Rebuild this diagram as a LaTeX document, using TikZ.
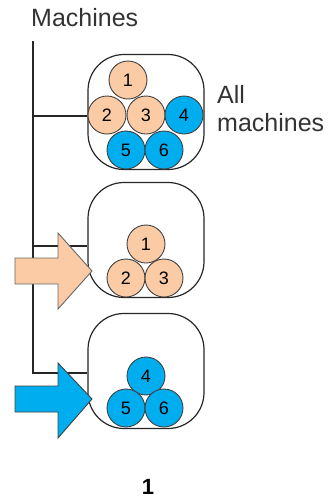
\documentclass[tikz,border=0pt]{standalone}
\usepackage{fontspec}
\setmainfont{Liberation Sans}
\begin{document}
\begin{tikzpicture}[x=1pt,y=-1pt,
  box/.style={draw=black!85,line width=1.2pt,rounded corners=36pt,minimum width=116pt,minimum height=115pt,inner sep=0pt},
  ball/.style={circle,draw=black!75,line width=0.9pt,minimum size=38pt,inner sep=0pt,font=\fontsize{18}{18}\selectfont},
  peach/.style={ball,fill=peachc},
  blue/.style={ball,fill=bluec},
  trunk/.style={draw=black!85,line width=1.3pt},
  lbl/.style={font=\fontsize{25}{28}\selectfont,text=black!80,inner sep=0pt}]
\definecolor{peachc}{HTML}{FBCBA5}
\definecolor{bluec}{HTML}{00AEEF}
\useasboundingbox (0,0) rectangle (333,499);
% title
\node[lbl,anchor=west] (title) at (31,18) {Machines};
% boxes
\node[box] (b1) at (146,112) {};
\node[box] (b2) at (146,240) {};
\node[box] (b3) at (146,371) {};
% trunk
\coordinate (t0) at (33,41);
\coordinate (t1) at (33,116);
\coordinate (t2) at (33,246);
\coordinate (t3) at (33,373);
\draw[trunk] (t0) -- (t3) -- (t3 -| b3.west);
\draw[trunk] (t1) -- (t1 -| b1.west);
\draw[trunk] (t2) -- (t2 -| b2.west);
% balls box 1
\node[peach] (c11) at (128,80) {1};
\node[peach] (c12) at (107,115) {2};
\node[peach] (c13) at (146,115) {3};
\node[blue] (c14) at (184,115) {4};
\node[blue] (c15) at (126,150) {5};
\node[blue] (c16) at (164,150) {6};
% balls box 2
\node[peach] (c21) at (146,244) {1};
\node[peach] (c22) at (126,278) {2};
\node[peach] (c23) at (164,278) {3};
% balls box 3
\node[blue] (c34) at (146,376) {4};
\node[blue] (c35) at (126,408) {5};
\node[blue] (c36) at (164,408) {6};
% label
\node[lbl,anchor=west,align=left] (all) at (217,109) {All\\machines};
% arrows
\draw[fill=peachc,draw=black!60,line width=0.9pt,line join=miter]
  (15,258) -- (58,258) -- (58,233) -- (92,271) -- (58,309) -- (58,284) -- (15,284) -- cycle;
\draw[fill=bluec,draw=black!75,line width=0.9pt,line join=miter]
  (15,386) -- (58,386) -- (58,363) -- (92,399) -- (58,438) -- (58,412) -- (15,412) -- cycle;
% caption
\node[font=\fontsize{22}{22}\selectfont\bfseries,inner sep=0pt] (cap) at (148,487) {1};
\end{tikzpicture}
\end{document}
